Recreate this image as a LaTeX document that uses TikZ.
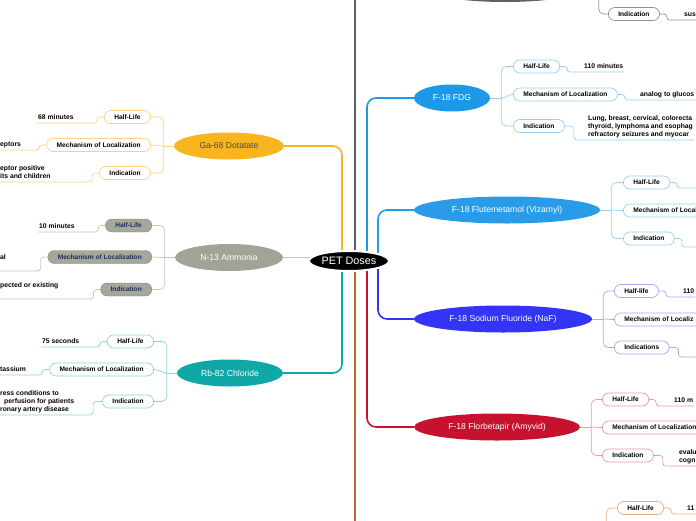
\documentclass[tikz,border=0pt]{standalone}
\usepackage{fontspec}
\setmainfont{Liberation Sans}
\usetikzlibrary{shapes.geometric,backgrounds}

\definecolor{cga}{HTML}{F8B51D}
\definecolor{cgal}{HTML}{FDD383}
\definecolor{cn13}{HTML}{A0A496}
\definecolor{cn13box}{HTML}{A4A79A}
\definecolor{cn13line}{HTML}{C3C6BC}
\definecolor{cnavy}{HTML}{1F2E5C}
\definecolor{crb}{HTML}{10A7A7}
\definecolor{crbl}{HTML}{8ED4D4}
\definecolor{cgray}{HTML}{5B6165}
\definecolor{cgrayl}{HTML}{8E9194}
\definecolor{corange}{HTML}{C8622A}
\definecolor{corangel}{HTML}{EDAC85}
\definecolor{cfdg}{HTML}{1D98E6}
\definecolor{cfdgl}{HTML}{98CDF3}
\definecolor{cflut}{HTML}{2A9BE8}
\definecolor{cflutl}{HTML}{9CCEF2}
\definecolor{cnaf}{HTML}{3434F6}
\definecolor{cnafl}{HTML}{A7A7F5}
\definecolor{cflor}{HTML}{C6122F}
\definecolor{cflorl}{HTML}{E79AA7}

\newcommand{\boxfont}{\bfseries\fontsize{6.6}{7.5}\selectfont}
\newcommand{\leaffont}{\bfseries\fontsize{6.8}{8}\selectfont}
\newcommand{\topicfont}{\fontsize{8.6}{10}\selectfont}

\tikzset{
  topic/.style={ellipse, inner sep=0pt, minimum height=27pt, text=white, font=\topicfont},
  subbox/.style={draw, fill=white, rounded corners=6.5pt, minimum height=13pt, inner xsep=10pt, inner ysep=0pt, line width=0.7pt, font=\boxfont},
  cutbox/.style={subbox, text width=83pt, align=left},
  n13box/.style={subbox, draw=cn13box!80!black, line width=0.4pt, fill=cn13box, text=cnavy},
  leaf/.style={inner sep=1pt, text depth=2pt, align=left, font=\leaffont},
  trunk/.style={line width=1.6pt, rounded corners=9pt},
  twig/.style={line width=0.7pt, rounded corners=5pt},
  leafline/.style={line width=0.7pt, rounded corners=3pt},
}

\begin{document}
\begin{tikzpicture}[x=1pt,y=-1pt]
		\useasboundingbox (0,0) rectangle (696,520);
		\clip (0,0) rectangle (696,520);
		
		% Центр
		\node[ellipse, fill=black, draw=white, line width=2pt, minimum width=80pt, minimum height=20pt, inner sep=0pt, text=white, font=\fontsize{10.8}{12}\selectfont] (root) at (349,261) {PET Doses};
		
		% Темы
		\node[topic, fill=cga, text=black!70, minimum width=110pt] (ga) at (229,146) {Ga-68 Dotatate};
		\node[topic, fill=cn13, minimum width=108pt] (n13) at (229,257.5) {N-13 Ammonia};
		\node[topic, fill=crb, minimum width=106pt] (rb) at (230,373) {Rb-82 Chloride};
		\node[topic, fill=cgray, minimum width=165pt, minimum height=30pt] (graytop) at (505,-13) {};
		\node[topic, fill=cfdg, minimum width=76pt] (fdg) at (452,98) {F-18 FDG};
		\node[topic, fill=cflut, minimum width=186pt] (flut) at (507,210) {F-18 Flutemetamol (Vizamyl)};
		\node[topic, fill=cnaf, minimum width=178pt] (naf) at (503,319) {F-18 Sodium Fluoride (NaF)};
		\node[topic, fill=cflor, minimum width=166pt] (flor) at (497,427) {F-18 Florbetapir (Amyvid)};
		\node[topic, fill=corange, minimum width=170pt, minimum height=30pt] (orange) at (510,585) {};
		
		\begin{scope}[on background layer]
			\clip (0,0) rectangle (696,520);
			\draw[trunk, cga] ([xshift=-7pt]root.center) |- (ga.east);
			\draw[trunk, crb] ([xshift=-7pt]root.center) |- (rb.east);
			\draw[line width=0.8pt, cn13line] (n13.east) -- (n13.east -| root.center);
			\draw[trunk, cgray] ([xshift=6pt]root.center) |- (graytop.west);
			\draw[trunk, corange] ([xshift=6pt]root.center) |- (orange.west);
			\draw[trunk, cfdg] ([xshift=18pt]root.center) |- (fdg.west);
			\draw[trunk, cflut] ([xshift=29pt]root.center) |- (flut.west);
			\draw[trunk, cnaf] ([xshift=29pt]root.center) |- (naf.west);
			\draw[trunk, cflor] ([xshift=18pt]root.center) |- (flor.west);
		\end{scope}
		
		% Ga-68
		\coordinate (gahub) at ([xshift=-10pt]ga.west);
		\node[subbox, draw=cgal, anchor=east] (gahl) at (151,117) {Half-Life};
		\node[subbox, draw=cgal, anchor=east] (gamech) at (151,145) {Mechanism of Localization};
		\node[subbox, draw=cgal, anchor=east] (gaind) at (151,173) {Indication};
		\draw[twig, cgal] (ga.west) -- (gahub);
		\draw[twig, cgal] (gahl.east) -| (gahub) |- (gaind.east);
		\draw[twig, cgal] (gamech.east) to[out=0, in=180] (gahub);
		\node[leaf, anchor=south west] (gahlt) at (37,123) {68 minutes};
		\node[leaf, anchor=south west] (gamecht) at (-1,150) {eptors};
		\node[leaf, anchor=south west] (gaindt) at (-1,182) {eptor positive\\its and children};
		\draw[leafline, cgal] (gahl.west) -- ++(-7,0) |- (gahlt.south west);
		\draw[leafline, cgal] (gamech.west) -- ++(-7,0) |- (gamecht.south west);
		\draw[leafline, cgal] (gaind.west) -- ++(-7,0) |- (gaindt.south west);
		
		% N-13
		\coordinate (n13hub) at ([xshift=-10pt]n13.west);
		\node[n13box, anchor=east] (n13hl) at (152,225.5) {Half-Life};
		\node[n13box, anchor=east] (n13mech) at (152,257) {Mechanism of Localization};
		\node[n13box, anchor=east] (n13ind) at (152,289.5) {Indication};
		\draw[twig, cn13line] (n13.west) -- (n13hub);
		\draw[twig, cn13line] (n13hl.east) -| (n13hub) |- (n13ind.east);
		\draw[twig, cn13line] (n13mech.east) to[out=0, in=180] (n13hub);
		\node[leaf, anchor=south west] (n13hlt) at (38,232) {10 minutes};
		\node[leaf, anchor=south west] (n13mecht) at (-1,263) {al};
		\node[leaf, anchor=south west] (n13indt) at (-1,291) {pected or existing};
		\coordinate (n13mechend) at (-2,271);
		\coordinate (n13indend) at (-2,299);
		\draw[leafline, cn13line] (n13hl.west) -- ++(-7,0) |- (n13hlt.south west);
		\draw[leafline, cn13line] (n13mech.west) -- ++(-7,0) |- (n13mechend);
		\draw[leafline, cn13line] (n13ind.west) -- ++(-7,0) |- (n13indend);
		
		% Rb-82
		\coordinate (rbhub) at ([xshift=-10pt]rb.west);
		\node[subbox, draw=crbl, anchor=east] (rbhl) at (154,341.5) {Half-Life};
		\node[subbox, draw=crbl, anchor=east] (rbmech) at (154,369.5) {Mechanism of Localization};
		\node[subbox, draw=crbl, anchor=east] (rbind) at (154,401.5) {Indication};
		\draw[twig, crbl] (rb.west) -- (rbhub);
		\draw[twig, crbl] (rbhl.east) -| (rbhub) |- (rbind.east);
		\draw[twig, crbl] (rbmech.east) to[out=0, in=180] (rbhub);
		\node[leaf, anchor=south west] (rbhlt) at (41,347) {75 seconds};
		\node[leaf, anchor=south west] (rbmecht) at (-1,375) {tassium};
		\node[leaf, anchor=south west] (rbindt) at (-1,415) {ress conditions to\\\hspace*{4pt}perfusion for patients\\ronary artery disease};
		\draw[leafline, crbl] (rbhl.west) -- ++(-7,0) |- (rbhlt.south west);
		\draw[leafline, crbl] (rbmech.west) -- ++(-7,0) |- (rbmecht.south west);
		\draw[leafline, crbl] (rbind.west) -- ++(-9,0) |- (rbindt.south west);
		
		% верхняя серая тема
		\coordinate (grayhub) at ([xshift=11pt]graytop.east);
		\node[subbox, draw=cgrayl, anchor=west] (grayind) at (608,14) {Indication};
		\draw[twig, cgrayl] (graytop.east) -- (grayhub);
		\draw[twig, cgrayl] (grayhub) |- (grayind.west);
		\node[leaf, anchor=south west] (grayindt) at (683,20) {sus};
		\draw[leafline, cgrayl] (grayind.east) -- ++(7,0) |- (grayindt.south east);
		
		% F-18 FDG
		\coordinate (fdghub) at ([xshift=11pt]fdg.east);
		\node[subbox, draw=cfdgl, anchor=west] (fdghl) at (513,66.5) {Half-Life};
		\node[subbox, draw=cfdgl, anchor=west] (fdgmech) at (513,94.5) {Mechanism of Localization};
		\node[subbox, draw=cfdgl, anchor=west] (fdgind) at (513,126) {Indication};
		\draw[twig, cfdgl] (fdg.east) -- (fdghub);
		\draw[twig, cfdgl] (fdghl.west) -| (fdghub) |- (fdgind.west);
		\draw[twig, cfdgl] (fdgmech.west) to[out=180, in=0] (fdghub);
		\node[leaf, anchor=south west] (fdghlt) at (583,72) {110 minutes};
		\node[leaf, anchor=south west] (fdgmecht) at (639,100) {analog to glucos};
		\node[leaf, anchor=south west] (fdgindt) at (587,140) {Lung, breast, cervical, colorecta\\thyroid, lymphoma and esophag\\refractory seizures and myocar};
		\draw[leafline, cfdgl] (fdghl.east) -- ++(7,0) |- (fdghlt.south east);
		\draw[leafline, cfdgl] (fdgmech.east) -- ++(7,0) |- (fdgmecht.south east);
		\draw[leafline, cfdgl] (fdgind.east) -- ++(9,0) |- (fdgindt.south east);
		
		% F-18 Flutemetamol
		\coordinate (fluthub) at ([xshift=11pt]flut.east);
		\node[subbox, draw=cflutl, anchor=west] (fluthl) at (623,182.5) {Half-Life};
		\node[cutbox, draw=cflutl, anchor=west] (flutmech) at (623,210.5) {Mechanism of Local};
		\node[subbox, draw=cflutl, anchor=west] (flutind) at (623,238.5) {Indication};
		\draw[twig, cflutl] (flut.east) -- (fluthub);
		\draw[twig, cflutl] (fluthl.west) -| (fluthub) |- (flutind.west);
		\draw[twig, cflutl] (flutmech.west) to[out=180, in=0] (fluthub);
		\coordinate (fluthlend) at (700,188);
		\coordinate (flutindend) at (700,247);
		\draw[leafline, cflutl] (fluthl.east) -- ++(7,0) |- (fluthlend);
		\draw[leafline, cflutl] (flutind.east) -- ++(7,0) |- (flutindend);
		
		% F-18 NaF
		\coordinate (nafhub) at ([xshift=11pt]naf.east);
		\node[subbox, draw=cnafl, anchor=west] (nafhl) at (614,291) {Half-life};
		\node[cutbox, draw=cnafl, anchor=west] (nafmech) at (614,319.5) {Mechanism of Localiz};
		\node[subbox, draw=cnafl, anchor=west] (nafind) at (614,347.5) {Indications};
		\draw[twig, cnafl] (naf.east) -- (nafhub);
		\draw[twig, cnafl] (nafhl.west) -| (nafhub) |- (nafind.west);
		\draw[twig, cnafl] (nafmech.west) to[out=180, in=0] (nafhub);
		\node[leaf, anchor=south west] (nafhlt) at (682,297) {110};
		\coordinate (nafindend) at (700,357);
		\draw[leafline, cnafl] (nafhl.east) -- ++(7,0) |- (nafhlt.south east);
		\draw[leafline, cnafl] (nafind.east) -- ++(9,0) |- (nafindend);
		
		% F-18 Florbetapir
		\coordinate (florhub) at ([xshift=11pt]flor.east);
		\node[subbox, draw=cflorl, anchor=west] (florhl) at (602,399.5) {Half-Life};
		\node[subbox, draw=cflorl, anchor=west] (flormech) at (602,427.5) {Mechanism of Localization};
		\node[subbox, draw=cflorl, anchor=west] (florind) at (602,455.5) {Indication};
		\draw[twig, cflorl] (flor.east) -- (florhub);
		\draw[twig, cflorl] (florhl.west) -| (florhub) |- (florind.west);
		\draw[twig, cflorl] (flormech.west) to[out=180, in=0] (florhub);
		\node[leaf, anchor=south west] (florhlt) at (673,406) {110 m};
		\node[leaf, anchor=south west] (florindt) at (678,466) {evalu\\cogn};
		\draw[leafline, cflorl] (florhl.east) -- ++(7,0) |- (florhlt.south east);
		\draw[leafline, cflorl] (florind.east) -- ++(9,0) |- (florindt.south east);
		
		% нижняя оранжевая тема
		\coordinate (orhub) at ([xshift=11pt]orange.east);
		\node[subbox, draw=corangel, anchor=west] (orhl) at (617,508) {Half-Life};
		\draw[twig, corangel] (orange.east) -- (orhub);
		\draw[twig, corangel] (orhl.west) -| (orhub);
		\node[leaf, anchor=south west] (orhlt) at (686,514) {11};
		\draw[leafline, corangel] (orhl.east) -- ++(7,0) |- (orhlt.south east);
	\end{tikzpicture}
\end{document}
